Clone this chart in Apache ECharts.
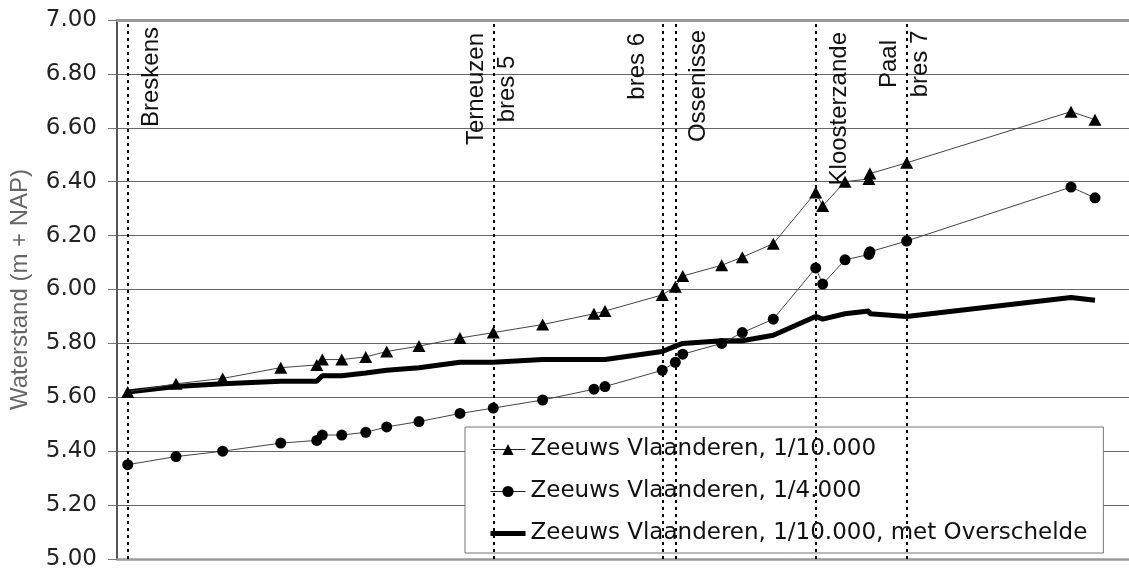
<!DOCTYPE html>
<html>
<head>
<meta charset="utf-8">
<script src="https://cdn.jsdelivr.net/npm/echarts@6/dist/echarts.min.js"></script>
<style>
  html, body { margin: 0; padding: 0; background: #fff; }
  #chart { width: 1129px; height: 571px; }
</style>
</head>
<body>
<div id="chart"></div>
<script>
// Distance along the dike (arbitrary km-like units)
const distance = [1.06, 5.83, 10.44, 16.18, 19.74, 20.29, 22.21, 24.58, 26.65, 29.84, 33.89, 37.18, 42.06, 47.13, 48.22, 53.88, 55.17, 55.9, 59.75, 61.79, 64.85, 69.04, 69.73, 71.94, 74.3, 74.4, 78.03, 94.27, 96.64];

const zv10000 = [5.62, 5.65, 5.67, 5.71, 5.72, 5.74, 5.74, 5.75, 5.77, 5.79, 5.82, 5.84, 5.87, 5.91, 5.92, 5.98, 6.01, 6.05, 6.09, 6.12, 6.17, 6.36, 6.31, 6.40, 6.41, 6.43, 6.47, 6.66, 6.63];
const zv4000 = [5.35, 5.38, 5.40, 5.43, 5.44, 5.46, 5.46, 5.47, 5.49, 5.51, 5.54, 5.56, 5.59, 5.63, 5.64, 5.70, 5.73, 5.76, 5.80, 5.84, 5.89, 6.08, 6.02, 6.11, 6.13, 6.14, 6.18, 6.38, 6.34];
const zvOverschelde = [5.62, 5.64, 5.65, 5.66, 5.66, 5.68, 5.68, 5.69, 5.70, 5.71, 5.73, 5.73, 5.74, 5.74, 5.74, 5.77, 5.79, 5.80, 5.81, 5.81, 5.83, 5.90, 5.89, 5.91, 5.92, 5.91, 5.90, 5.97, 5.96];

const seriesNames = ['Zeeuws Vlaanderen, 1/10.000', 'Zeeuws Vlaanderen, 1/4.000', 'Zeeuws Vlaanderen, 1/10.000, met Overschelde'];

// Location markers (dotted vertical lines)
const markerNames = ['Breskens', 'Terneuzen\nbres 5', 'bres 6', 'Ossenisse', 'Kloosterzande', 'Paal\nbres 7'];
const markerX = [1.06, 37.18, 53.88, 55.17, 69.04, 78.03];

const yMin = 5.0, yMax = 7.0, yStep = 0.2;

// label placement styles (side of line, offset, anchor y)
const markerStyle = [
  { side: 'right', dx: 8, y: 27 },
  { side: 'center', dx: -1, y: 89 },
  { side: 'left', dx: -9, y: 33 },
  { side: 'right', dx: 8, y: 30 },
  { side: 'right', dx: 8, y: 32 },
  { side: 'center', dx: -2, y: 64 }
];

const pts = vals => distance.map((d, i) => [d, vals[i]]);

const chart = echarts.init(document.getElementById('chart'), null, { renderer: 'canvas' });

const option = {
  animation: false,
  backgroundColor: '#fff',
  grid: { left: 117, right: 0, top: 20, bottom: 12 },
  xAxis: [
    {
      type: 'value', min: 0, max: 100, position: 'bottom',
      axisLine: { show: true, lineStyle: { color: '#999', width: 2.5 } },
      axisTick: { show: false }, axisLabel: { show: false }, splitLine: { show: false }
    },
    {
      type: 'value', min: 0, max: 100, position: 'top',
      axisLine: { show: true, lineStyle: { color: '#999', width: 3 } },
      axisTick: { show: false }, axisLabel: { show: false }, splitLine: { show: false }
    }
  ],
  yAxis: {
    type: 'value', min: yMin, max: yMax, interval: yStep,
    name: 'Waterstand (m + NAP)',
    nameLocation: 'middle', nameRotate: 90, nameGap: 85,
    nameTextStyle: { fontFamily: 'Liberation Sans', fontSize: 24, color: '#666' },
    axisLine: { show: true, lineStyle: { color: '#555', width: 2 } },
    axisTick: { show: true, inside: false, length: 9, lineStyle: { color: '#777', width: 1 } },
    axisLabel: {
      margin: 20, fontFamily: 'DejaVu Sans', fontSize: 23, color: '#222',
      formatter: v => v.toFixed(2)
    },
    splitLine: { show: true, lineStyle: { color: '#666', width: 1 } }
  },
  legend: {
    data: [
      { name: seriesNames[0], lineStyle: { color: '#222', width: 1 } },
      { name: seriesNames[1], lineStyle: { color: '#222', width: 1 } },
      { name: seriesNames[2], itemStyle: { color: 'rgba(0,0,0,0)', borderWidth: 0 }, lineStyle: { color: '#000', width: 5 } }
    ],
    orient: 'vertical',
    left: 465, top: 427,
    padding: [11, 16, 8, 23],
    itemGap: 19,
    itemWidth: 35, itemHeight: 14,
    backgroundColor: '#fff',
    borderColor: '#777', borderWidth: 1,
    textStyle: { fontFamily: 'DejaVu Sans', fontSize: 23, color: '#111' }
  },
  series: [
    {
      name: seriesNames[2], type: 'line', data: pts(zvOverschelde),
      symbol: 'none', lineStyle: { color: '#000', width: 5 }, itemStyle: { color: '#000' },
      z: 2,
      markLine: {
        silent: true, symbol: ['none', 'none'],
        label: { show: false },
        lineStyle: { color: '#000', width: 2, type: [3, 4] },
        data: markerX.map(x => ({ xAxis: x }))
      }
    },
    {
      name: seriesNames[1], type: 'line', data: pts(zv4000),
      symbol: 'circle', symbolSize: 11, showAllSymbol: true,
      lineStyle: { color: '#444', width: 1 }, itemStyle: { color: '#000' },
      z: 3
    },
    {
      name: seriesNames[0], type: 'line', data: pts(zv10000),
      symbol: 'triangle', symbolSize: [13, 12], showAllSymbol: true,
      lineStyle: { color: '#444', width: 1 }, itemStyle: { color: '#000' },
      z: 4
    }
  ]
};

chart.setOption(option);

// Location labels, positioned with the chart's own x scale
const graphics = markerNames.map((name, i) => {
  const st = markerStyle[i];
  const px = chart.convertToPixel({ xAxisIndex: 0 }, markerX[i]);
  let align = 'right', va = 'top';
  if (st.side === 'left') { va = 'bottom'; }
  if (st.side === 'center') { align = 'center'; va = 'middle'; }
  return {
    type: 'text',
    x: px + st.dx, y: st.y,
    rotation: Math.PI / 2,
    z: 10,
    style: {
      text: name,
      fontFamily: 'Liberation Sans', fontSize: 24,
      lineHeight: 31,
      fill: '#111',
      align: align, verticalAlign: va
    }
  };
});
chart.setOption({ graphic: graphics });
</script>
</body>
</html>
